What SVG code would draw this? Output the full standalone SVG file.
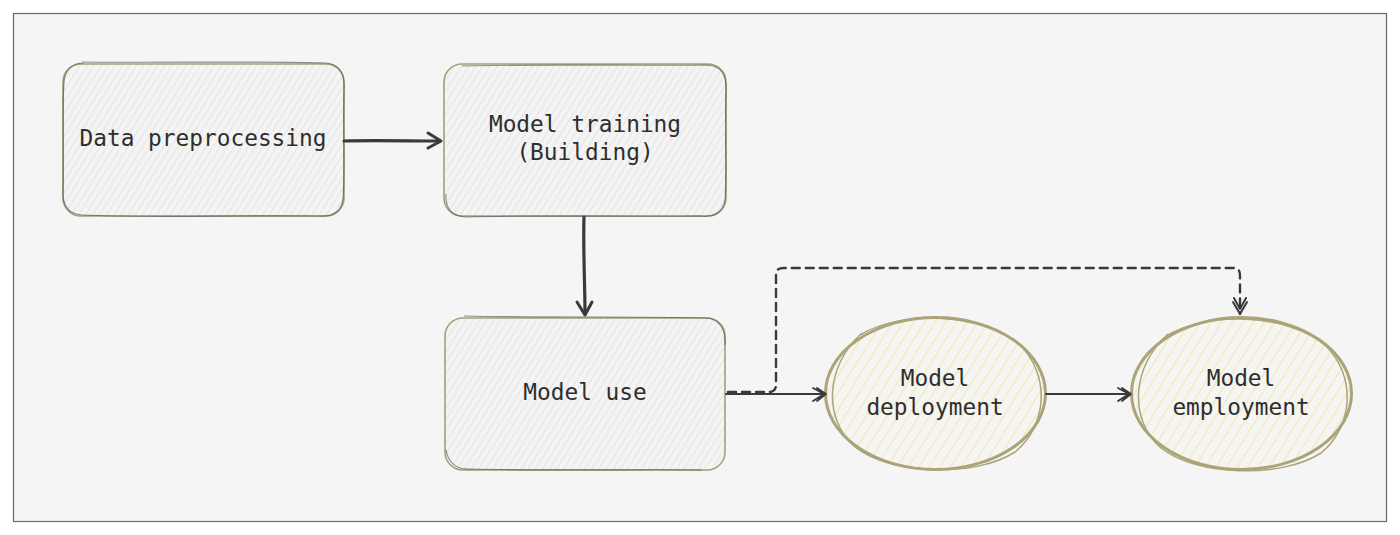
<svg xmlns="http://www.w3.org/2000/svg" width="1400" height="535" viewBox="0 0 1400 535">
<defs>
<pattern id="hg" width="6" height="6" patternUnits="userSpaceOnUse" patternTransform="rotate(32)">
<rect width="6" height="6" fill="#f4f4f4"/>
<line x1="0" y1="0" x2="0" y2="6" stroke="#d9d9d9" stroke-width="1.2"/>
</pattern>
<pattern id="hy" width="9" height="9" patternUnits="userSpaceOnUse" patternTransform="rotate(32)">
<rect width="9" height="9" fill="#f5f5f3"/>
<line x1="0" y1="0" x2="0" y2="9" stroke="#f3eac2" stroke-width="3"/>
</pattern>
<style>
.box{fill:url(#hg);stroke:#a59f7c;stroke-width:1.6}
.box2{fill:none;stroke:#4a4a44;stroke-width:1.2;opacity:.6}
.ell{fill:url(#hy);stroke:#aba478;stroke-width:3}
.ell2{fill:none;stroke:#aba478;stroke-width:1.5}
.t{font-family:"DejaVu Sans Mono","Liberation Mono",monospace;font-size:22.8px;fill:#2e2e2e;text-anchor:middle}
.c{fill:none;stroke:#3a3a3a;stroke-linecap:round;stroke-linejoin:round}
</style>
</defs>
<rect x="0" y="0" width="1400" height="535" fill="#ffffff"/>
<rect x="13.5" y="13.5" width="1373" height="508" fill="#f5f5f5" stroke="#6b6b66" stroke-width="1.2"/>

<g id="node-data">
<rect class="box" x="63" y="64" width="281" height="152" rx="18"/>
<path class="box2" d="M82,62 C150,63 260,61 326,63 C340,64 345,75 344,90 C343,130 345,180 343,198 C342,212 333,217 318,216 C240,215 140,218 82,215 C68,214 62,206 63,190 C64,150 62,110 64,82 C65,70 72,63 84,63"/>
<text class="t" x="203" y="146">Data preprocessing</text>
</g>

<g id="node-training">
<rect class="box" x="444" y="64" width="282" height="152" rx="18"/>
<path class="box2" d="M462,66 C530,64 640,66 708,65 C722,66 727,76 726,92 C725,140 727,180 725,200 C723,213 712,218 700,216 C620,217 520,215 465,217 C452,216 445,208 446,194"/>
<text class="t" x="585" y="132">Model training</text>
<text class="t" x="585" y="160">(Building)</text>
</g>

<g id="node-use">
<rect class="box" x="445" y="318" width="280" height="152" rx="18"/>
<path class="box2" d="M464,316 C540,318 640,316 706,318 C720,319 726,330 725,345 M446,450 C448,462 456,470 470,469 C560,471 650,469 702,470"/>
<text class="t" x="585" y="400">Model use</text>
</g>

<g id="node-deployment">
<ellipse class="ell" cx="935.5" cy="393.5" rx="110" ry="76"/>
<path class="ell2" d="M860,335 C900,310 980,312 1020,345 C1050,375 1048,425 1015,452 C975,478 890,475 855,447 C822,418 826,365 862,333"/>
<text class="t" x="935" y="386">Model</text>
<text class="t" x="935" y="415">deployment</text>
</g>

<g id="node-employment">
<ellipse class="ell" cx="1241.5" cy="393.5" rx="110" ry="76"/>
<path class="ell2" d="M1166,336 C1206,311 1288,313 1326,346 C1356,376 1354,426 1321,453 C1281,479 1196,476 1161,448 C1128,419 1132,366 1168,334"/>
<text class="t" x="1241" y="386">Model</text>
<text class="t" x="1241" y="415">employment</text>
</g>

<g id="connectors">
<path class="c" stroke-width="3.2" d="M344,141 C370,140 410,141 440,141"/>
<path class="c" stroke-width="3" d="M428,133 L441,141 L428,148"/>
<path class="c" stroke-width="3.2" d="M584,217 C583,250 585,285 585,314"/>
<path class="c" stroke-width="3" d="M577,302 L585,315 L592,302"/>
<path class="c" stroke-width="1.8" d="M726,394 L824,394"/>
<path class="c" stroke-width="1.8" d="M813,388 L824,394 L813,401 M817,388 L826,394 L817,401"/>
<path class="c" stroke-width="1.8" d="M1046,394 L1129,394"/>
<path class="c" stroke-width="1.8" d="M1118,388 L1129,394 L1118,401 M1122,388 L1131,394 L1122,401"/>
<path class="c" stroke-width="2.4" stroke-dasharray="8,6" d="M728,392 L770,392 C775,391 776,388 776,384 L776,276 C776,270 778,268 784,268 L1233,268 C1238,268 1240,270 1240,276 L1240,314"/>
<path class="c" stroke-width="2" d="M1233,302 L1240,314 L1247,302 M1234,298 L1240,309 L1246,298"/>
</g>
</svg>
